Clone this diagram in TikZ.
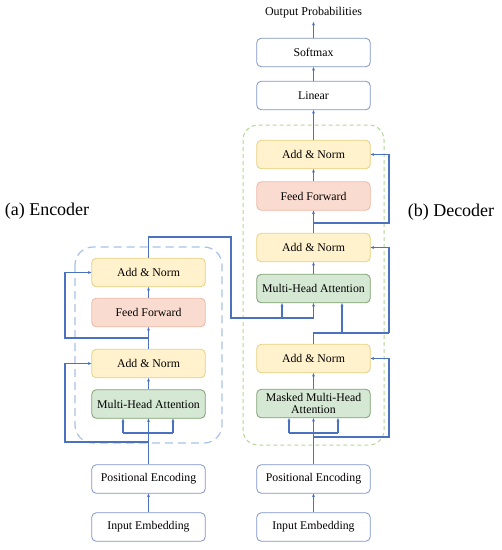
\documentclass[tikz,border=0pt]{standalone}
\usepackage{fontspec}
\setmainfont{Liberation Serif}
\usetikzlibrary{arrows.meta,calc}
\definecolor{lineblue}{HTML}{4A72BE}
\definecolor{wborder}{HTML}{7F96C6}
\definecolor{yfill}{HTML}{FFF2CC}
\definecolor{ydraw}{HTML}{E6D07E}
\definecolor{rfill}{HTML}{FADBCF}
\definecolor{rdraw}{HTML}{EDB9A6}
\definecolor{gfill}{HTML}{D5E8D4}
\definecolor{gdraw}{HTML}{7EA070}
\definecolor{encdash}{HTML}{A8C1E6}
\definecolor{decdash}{HTML}{B5D59A}
\tikzset{
  box/.style={rounded corners=4.5pt, minimum width=113.5pt, minimum height=28.5pt, line width=0.8pt, inner sep=1pt, align=center, font=\fontsize{11.8}{12.6}\selectfont},
  wbox/.style={box, draw=wborder, fill=white},
  ybox/.style={box, draw=ydraw, fill=yfill},
  rbox/.style={box, draw=rdraw, fill=rfill},
  gbox/.style={box, draw=gdraw, fill=gfill},
  conn/.style={draw=lineblue, line width=1.1pt},
  arr/.style={conn, -{Stealth[length=3.5pt,width=3pt]}},
}
\begin{document}
\begin{tikzpicture}[x=1pt,y=-1pt]
\useasboundingbox (0,0) rectangle (502,550);
% containers
\draw[encdash, line width=1.2pt, dash pattern=on 8pt off 5pt, rounded corners=18pt] (75,247) rectangle (222,443);
\draw[decdash, line width=1pt, dash pattern=on 4pt off 3pt, rounded corners=15pt] (243,125) rectangle (384,445);
% labels
\node[font=\fontsize{18}{20}\selectfont] (labA) at (47,211) {(a) Encoder};
\node[font=\fontsize{18}{20}\selectfont] (labB) at (451,212) {(b) Decoder};
\node[font=\fontsize{12}{13}\selectfont] (outp) at (313.5,13) {Output Probabilities};
% encoder
\node[wbox] (eie) at (148.5,527) {Input Embedding};
\node[wbox] (epe) at (148.5,479) {Positional Encoding};
\node[gbox] (emha) at (148.5,404) {Multi-Head Attention};
\node[ybox] (ean1) at (148.5,363.5) {Add \& Norm};
\node[rbox] (eff) at (148.5,312.5) {Feed Forward};
\node[ybox] (ean2) at (148.5,272.5) {Add \& Norm};
% decoder
\node[wbox] (die) at (313.5,527) {Input Embedding};
\node[wbox] (dpe) at (313.5,479) {Positional Encoding};
\node[gbox] (dmmha) at (313.5,403.5) {Masked Multi-Head\\Attention};
\node[ybox] (dan1) at (313.5,358.5) {Add \& Norm};
\node[gbox] (dmha) at (313.5,288.5) {Multi-Head Attention};
\node[ybox] (dan2) at (313.5,247.5) {Add \& Norm};
\node[rbox] (dff) at (313.5,196) {Feed Forward};
\node[ybox] (dan3) at (313.5,154.5) {Add \& Norm};
\node[wbox] (lin) at (313.5,95.5) {Linear};
\node[wbox] (soft) at (313.5,52.5) {Softmax};
% helper coordinates
\coordinate (eb) at (148.5,433);
\coordinate (er1) at (148.5,442);
\coordinate (er2) at (148.5,338);
\coordinate (db) at (313.5,433);
\coordinate (dr1) at (313.5,437);
\coordinate (dr2) at (313.5,333);
\coordinate (dr3) at (313.5,223);
% encoder connectors
\draw[arr] (eie) -- (epe);
\draw[arr] (epe) -- (emha);
\draw[conn] (123,433) -- (173,433);
\draw[arr] (123,433) -- (emha.south -| 123,0);
\draw[arr] (173,433) -- (emha.south -| 173,0);
\draw[arr] (er1) -- (65,442) -- (65,363.5) -- (ean1.west);
\draw[arr] (emha) -- (ean1);
\draw[arr] (ean1) -- (eff);
\draw[arr] (er2) -- (65,338) -- (65,272.5) -- (ean2.west);
\draw[arr] (eff) -- (ean2);
\draw[conn] (ean2.north) -- (148.5,237) -- (231,237) -- (231,318) -- (313.5,318);
\draw[arr] (282,318) -- (dmha.south -| 282,0);
\draw[arr] (313.5,318) -- (dmha.south);
% decoder connectors
\draw[arr] (die) -- (dpe);
\draw[arr] (dpe) -- (dmmha);
\draw[conn] (289,433) -- (338,433);
\draw[arr] (289,433) -- (dmmha.south -| 289,0);
\draw[arr] (338,433) -- (dmmha.south -| 338,0);
\draw[arr] (dr1) -- (389,437) -- (389,358.5) -- (dan1.east);
\draw[arr] (dmmha) -- (dan1);
\draw[conn] (dan1.north) -- (dr2) -- (389,333);
\draw[arr] (342,333) -- (dmha.south -| 342,0);
\draw[arr] (389,333) -- (389,247.5) -- (dan2.east);
\draw[arr] (dmha) -- (dan2);
\draw[arr] (dan2) -- (dff);
\draw[arr] (dr3) -- (389,223) -- (389,154.5) -- (dan3.east);
\draw[arr] (dff) -- (dan3);
\draw[arr] (dan3) -- (lin);
\draw[arr] (lin) -- (soft);
\draw[arr] (soft) -- (outp);
\end{tikzpicture}
\end{document}
